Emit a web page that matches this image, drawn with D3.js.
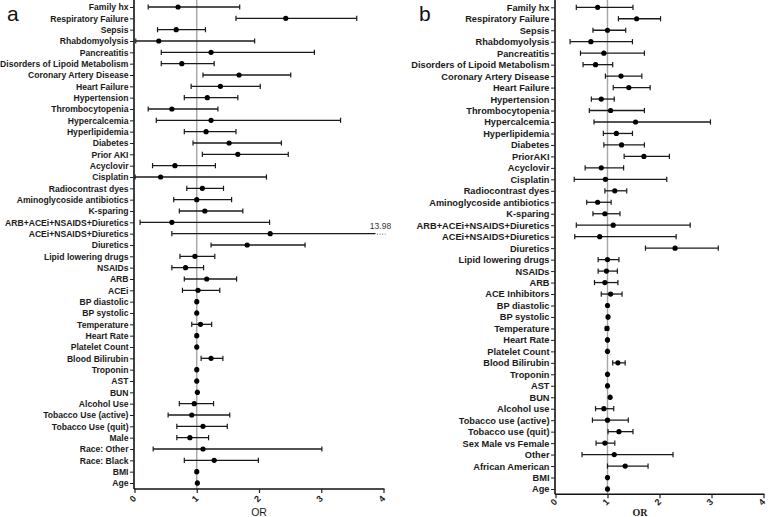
<!DOCTYPE html>
<html>
<head>
<meta charset="utf-8">
<script src="https://cdn.jsdelivr.net/npm/d3@7"></script>
<style>
  html, body { margin: 0; padding: 0; background: #fff; }
  svg { display: block; }
</style>
</head>
<body>
<svg id="chart" width="778" height="517"></svg>
<script>
// ---------- DATA ----------
const xTicks = [0, 1, 2, 3, 4];

const labelsA = ["Family hx","Respiratory Failure","Sepsis","Rhabdomyolysis","Pancreatitis",
  "Disorders of Lipoid Metabolism","Coronary Artery Disease","Heart Failure","Hypertension",
  "Thrombocytopenia","Hypercalcemia","Hyperlipidemia","Diabetes","Prior AKI","Acyclovir",
  "Cisplatin","Radiocontrast dyes","Aminoglycoside antibiotics","K-sparing",
  "ARB+ACEi+NSAIDS+Diuretics","ACEi+NSAIDS+Diuretics","Diuretics","Lipid lowering drugs",
  "NSAIDs","ARB","ACEi","BP diastolic","BP systolic","Temperature","Heart Rate",
  "Platelet Count","Blood Bilirubin","Troponin","AST","BUN","Alcohol Use",
  "Tobacco Use (active)","Tobacco Use (quit)","Male","Race: Other","Race: Black","BMI","Age"];
const orA   = [0.70,2.43,0.67,0.39,1.23,0.76,1.68,1.38,1.17,0.60,1.23,1.15,1.52,1.66,0.65,
  0.42,1.09,1.00,1.13,0.60,2.18,1.81,0.97,0.82,1.16,1.02,1.00,1.00,1.06,1.00,
  1.00,1.23,1.00,1.00,1.01,0.96,0.92,1.10,0.89,1.10,1.28,1.00,1.01];
const lowA  = [0.22,1.63,0.37,0.02,0.43,0.43,1.10,0.91,0.80,0.22,0.35,0.80,0.94,1.09,0.29,
  0.01,0.84,0.63,0.72,0.09,0.60,1.23,0.73,0.60,0.80,0.77,0.99,0.99,0.92,0.99,
  0.99,1.07,0.99,0.99,1.00,0.72,0.54,0.68,0.68,0.30,0.80,0.99,1.00];
const highA = [1.69,3.57,1.14,1.93,2.89,1.28,2.51,2.02,1.66,1.34,3.31,1.63,2.36,2.47,1.30,
  2.12,1.43,1.56,1.74,2.17,13.98,2.74,1.29,1.11,1.64,1.37,1.01,1.01,1.24,1.01,
  1.01,1.42,1.01,1.01,1.02,1.27,1.53,1.49,1.19,3.01,1.99,1.01,1.02];

const labelsB = ["Family hx","Respiratory Failure","Sepsis","Rhabdomyolysis","Pancreatitis",
  "Disorders of Lipoid Metabolism","Coronary Artery Disease","Heart Failure","Hypertension",
  "Thrombocytopenia","Hypercalcemia","Hyperlipidemia","Diabetes","PriorAKI","Acyclovir",
  "Cisplatin","Radiocontrast dyes","Aminoglycoside antibiotics","K-sparing",
  "ARB+ACEi+NSAIDS+Diuretics","ACEi+NSAIDS+Diuretics","Diuretics","Lipid lowering drugs",
  "NSAIDs","ARB","ACE Inhibitors","BP diastolic","BP systolic","Temperature","Heart Rate",
  "Platelet Count","Blood Bilirubin","Troponin","AST","BUN","Alcohol use",
  "Tobacco use (active)","Tobacco use (quit)","Sex Male vs Female","Other","African American","BMI","Age"];
const orB   = [0.81,1.56,1.00,0.68,0.93,0.77,1.26,1.41,0.88,1.06,1.54,1.17,1.27,1.70,0.88,
  0.96,1.14,0.81,0.95,1.11,0.85,2.30,1.00,0.98,0.95,1.06,1.00,1.01,0.99,1.00,
  1.00,1.20,1.00,1.00,1.05,0.93,1.00,1.22,0.95,1.13,1.34,1.00,1.00];
const lowB  = [0.40,1.21,0.72,0.28,0.48,0.53,0.96,1.11,0.69,0.65,0.74,0.92,0.93,1.32,0.57,
  0.36,0.95,0.60,0.72,0.40,0.37,1.73,0.82,0.82,0.75,0.88,0.99,1.00,0.96,0.99,
  0.99,1.10,0.99,0.99,1.04,0.77,0.71,1.01,0.78,0.51,1.00,0.99,0.99];
const highB = [1.49,2.02,1.35,1.48,1.71,1.10,1.66,1.82,1.13,1.71,2.98,1.48,1.71,2.19,1.31,
  2.14,1.37,1.07,1.24,2.59,2.32,3.13,1.22,1.19,1.20,1.28,1.01,1.02,1.02,1.01,
  1.01,1.34,1.01,1.01,1.06,1.12,1.40,1.49,1.14,2.26,1.78,1.01,1.01];

// ---------- DRAW ----------
const svg = d3.select("#chart");
const FONT = "'Liberation Sans', Arial, Helvetica, sans-serif";

function drawPanel(p) {
  const g = svg.append("g");
  const x = d3.scaleLinear().domain([0, 4]).range(p.xRange);
  const y = d3.scalePoint().domain(p.labels).range(p.yRange);
  const rows = p.labels.map((l, i) => ({ label: l, or: p.or[i], lo: p.lo[i], hi: p.hi[i] }));
  const xMax = x(4);

  // reference line at OR = 1
  g.append("line")
    .attr("x1", x(1)).attr("x2", x(1))
    .attr("y1", 0).attr("y2", p.axisY)
    .attr("stroke", "#a6a6a6").attr("stroke-width", 1.4);

  // y axis
  const yAxis = d3.axisLeft(y).tickSize(4).tickPadding(1.5);
  const ya = g.append("g").attr("transform", `translate(${p.xRange[0] - 0.5},0)`).call(yAxis);
  ya.select(".domain").attr("d", `M0,0V${p.axisY}`).attr("stroke", "#111").attr("stroke-width", 1.6);
  ya.selectAll(".tick line").attr("stroke", "#222").attr("stroke-width", 1);
  ya.selectAll(".tick text")
    .attr("font-family", FONT).attr("font-weight", "bold")
    .attr("font-size", p.labelSize).attr("fill", "#1a1a1a");

  // x axis
  const xAxis = d3.axisBottom(x).tickValues(xTicks).tickSize(4).tickFormat(d3.format("d"));
  const xa = g.append("g").attr("transform", `translate(0,${p.axisY})`).call(xAxis);
  xa.select(".domain").attr("d", `M${p.xRange[0] - 0.5},0H${xMax + 1}`)
    .attr("stroke", "#111").attr("stroke-width", 1.6);
  xa.selectAll(".tick line").attr("stroke", "#222").attr("stroke-width", 1.2);
  xa.selectAll(".tick text")
    .attr("font-family", FONT).attr("font-weight", "bold").attr("font-size", 9)
    .attr("fill", "#1a1a1a")
    .attr("y", 0).attr("dy", 0)
    .attr("text-anchor", "middle")
    .attr("transform", `translate(0,${p.tickLabelDy}) rotate(-45)`);

  // axis title
  g.append("text")
    .attr("x", p.orX).attr("y", 516)
    .attr("text-anchor", "middle")
    .attr("font-family", p.orFont).attr("font-weight", p.orWeight)
    .attr("font-size", p.orSize).attr("fill", "#1a1a1a")
    .text("OR");

  // panel letter
  g.append("text")
    .attr("x", p.letterX).attr("y", 21)
    .attr("font-family", FONT).attr("font-size", 21).attr("fill", "#111")
    .text(p.letter);

  // error bars
  const bars = g.append("g");
  rows.forEach(d => {
    const yy = y(d.label);
    const clipped = d.hi > 4;
    const xHiLine = clipped ? xMax - 8 : x(d.hi);
    bars.append("line")
      .attr("x1", x(d.lo)).attr("x2", xHiLine)
      .attr("y1", yy).attr("y2", yy)
      .attr("stroke", "#1a1a1a").attr("stroke-width", 1.3);
    bars.append("line")
      .attr("x1", x(d.lo)).attr("x2", x(d.lo))
      .attr("y1", yy - 2.6).attr("y2", yy + 2.6)
      .attr("stroke", "#1a1a1a").attr("stroke-width", 1.2);
    if (clipped) {
      bars.append("line")
        .attr("x1", xHiLine + 1.5).attr("x2", xMax + 2)
        .attr("y1", yy + 0.5).attr("y2", yy + 0.5)
        .attr("stroke", "#555").attr("stroke-width", 1)
        .attr("stroke-dasharray", "1,1.6");
      bars.append("text")
        .attr("x", xMax - 3).attr("y", yy - 4.5)
        .attr("text-anchor", "middle")
        .attr("font-family", FONT).attr("font-size", 8.5).attr("fill", "#333")
        .text(d3.format(".2f")(d.hi));
    } else {
      bars.append("line")
        .attr("x1", x(d.hi)).attr("x2", x(d.hi))
        .attr("y1", yy - 2.6).attr("y2", yy + 2.6)
        .attr("stroke", "#1a1a1a").attr("stroke-width", 1.2);
    }
    bars.append("circle")
      .attr("cx", x(d.or)).attr("cy", yy).attr("r", 2.6)
      .attr("fill", "#000");
  });
}

drawPanel({
  labels: labelsA, or: orA, lo: lowA, hi: highA,
  xRange: [134.5, 383.5], yRange: [7, 483], axisY: 489,
  labelSize: 8.6, tickLabelDy: 12,
  orX: 259, orFont: FONT, orWeight: "normal", orSize: 10.5,
  letter: "a", letterX: 7
});

drawPanel({
  labels: labelsB, or: orB, lo: lowB, hi: highB,
  xRange: [555.5, 763.5], yRange: [7.3, 489], axisY: 494.3,
  labelSize: 9.25, tickLabelDy: 10,
  orX: 640, orFont: "'Liberation Serif', 'Times New Roman', serif", orWeight: "bold", orSize: 10,
  letter: "b", letterX: 419
});
</script>
</body>
</html>
